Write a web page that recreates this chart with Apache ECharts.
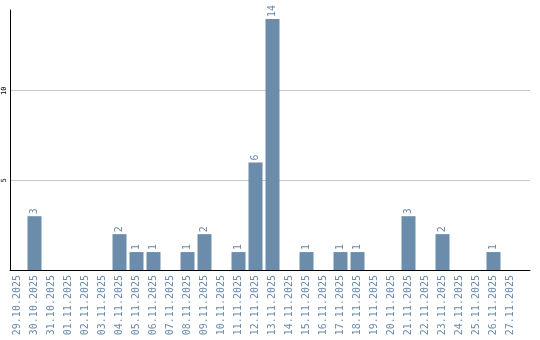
<!DOCTYPE html>
<html>
<head>
    <meta charset="utf-8">
    <title>daily count</title>
    <style>
        body { margin: 0; background: #fff; }
    </style>
</head>
<body>
    <div id="main" style="width: 540px;height:340px;"></div>

    <script src="https://cdn.jsdelivr.net/npm/echarts@6/dist/echarts.min.js"></script>
    <script>
        // dates on the x axis
        var days = ['29.10.2025', '30.10.2025', '31.10.2025', '01.11.2025', '02.11.2025',
            '03.11.2025', '04.11.2025', '05.11.2025', '06.11.2025', '07.11.2025',
            '08.11.2025', '09.11.2025', '10.11.2025', '11.11.2025', '12.11.2025',
            '13.11.2025', '14.11.2025', '15.11.2025', '16.11.2025', '17.11.2025',
            '18.11.2025', '19.11.2025', '20.11.2025', '21.11.2025', '22.11.2025',
            '23.11.2025', '24.11.2025', '25.11.2025', '26.11.2025', '27.11.2025'];
        // count per day
        var counts = [0, 3, 0, 0, 0, 0, 2, 1, 1, 0, 1, 2, 0, 1, 6, 14, 0, 1, 0, 1, 1, 0, 0, 3, 0, 2, 0, 0, 1, 0];
        var yMax = 14.5;
        var yStep = 5;

        var barColor = '#6b8cab';
        var textColor = '#6a8aab';

        var myChart = echarts.init(document.getElementById('main'));

        var option = {
            animation: false,
            grid: [
                // bars
                { left: 9, right: 21, top: 10, bottom: 70 },
                // frame: axis lines + grid lines, a bit wider than the bars
                { left: 10, right: 10, top: 10, bottom: 70 }
            ],
            xAxis: [{
                type: 'category',
                gridIndex: 0,
                data: days,
                axisLine: { show: false },
                axisTick: { show: false },
                axisLabel: {
                    interval: 0,
                    rotate: 90,
                    margin: 5,
                    color: textColor,
                    fontSize: 10,
                    fontFamily: 'DejaVu Sans Mono'
                }
            }, {
                type: 'value',
                gridIndex: 1,
                min: 0,
                max: 1,
                axisLine: { show: true, lineStyle: { color: '#000', width: 1 } },
                axisTick: { show: false },
                axisLabel: { show: false },
                splitLine: { show: false }
            }],
            yAxis: [{
                type: 'value',
                gridIndex: 0,
                min: 0,
                max: yMax,
                interval: yStep,
                show: false
            }, {
                type: 'value',
                gridIndex: 1,
                min: 0,
                max: yMax,
                interval: yStep,
                axisLine: { show: true, lineStyle: { color: '#000', width: 1 } },
                axisTick: { show: false },
                splitLine: {
                    show: true,
                    showMinLine: false,
                    showMaxLine: false,
                    lineStyle: { color: '#c8c8c8', width: 1 }
                },
                axisLabel: {
                    showMinLabel: false,
                    showMaxLabel: false,
                    rotate: 90,
                    margin: 2,
                    color: '#000',
                    fontSize: 7,
                    fontFamily: 'DejaVu Sans Mono'
                }
            }],
            series: [{
                type: 'bar',
                xAxisIndex: 0,
                yAxisIndex: 0,
                data: counts,
                barWidth: 14,
                itemStyle: { color: barColor },
                label: {
                    show: true,
                    position: 'top',
                    rotate: 90,
                    align: 'left',
                    verticalAlign: 'middle',
                    distance: 2,
                    color: textColor,
                    fontSize: 10,
                    fontFamily: 'DejaVu Sans Mono',
                    formatter: function (p) { return p.value ? p.value : ''; }
                }
            }]
        };
        myChart.setOption(option);
    </script>
</body>
</html>
